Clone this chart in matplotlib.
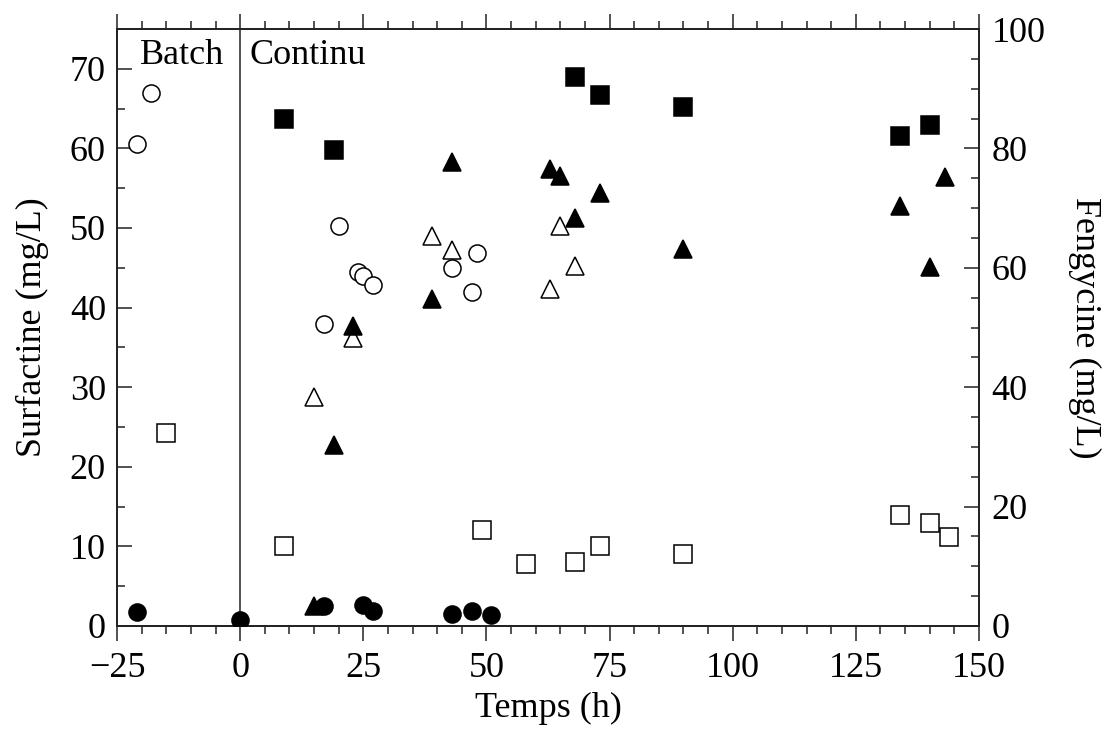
import matplotlib
matplotlib.use("Agg")
import matplotlib.pyplot as plt
from matplotlib.ticker import MultipleLocator

# ---- data ----
t_circle_open = [-21, -18, 17, 20, 24, 25, 27, 43, 47, 48]
surf_circle_open = [60.5, 66.9, 38.0, 50.2, 44.5, 44.0, 42.8, 45.0, 42.0, 46.9]

t_circle_filled = [-21, 0, 17, 25, 27, 43, 47, 51]
surf_circle_filled = [1.7, 0.75, 2.5, 2.7, 1.85, 1.5, 1.9, 1.4]

t_square_open = [-15, 9, 49, 58, 68, 73, 90, 134, 140, 144]
surf_square_open = [24.3, 10.0, 12.0, 7.8, 8.0, 10.0, 9.0, 13.9, 13.0, 11.2]

t_square_filled = [9, 19, 68, 73, 90, 134, 140]
surf_square_filled = [63.7, 59.8, 69.0, 66.7, 65.2, 61.5, 63.0]

t_tri_filled = [15, 19, 23, 39, 43, 63, 65, 68, 73, 90, 134, 140, 143]
feng_tri_filled = [3.4, 30.3, 50.3, 54.7, 77.7, 76.6, 75.3, 68.3, 72.5, 63.2, 70.4, 60.1, 75.2]

t_tri_open = [15, 23, 39, 43, 63, 65, 68]
feng_tri_open = [38.3, 48.3, 65.3, 62.9, 56.4, 67.0, 60.3]

phase_labels = ["Batch", "Continu"]
x_ticks = [-25, 0, 25, 50, 75, 100, 125, 150]

plt.rcParams["font.family"] = ["Liberation Serif", "DejaVu Serif"]
plt.rcParams["mathtext.fontset"] = "stix"

fig = plt.figure(figsize=(11.04, 7.49), dpi=100)
ax = fig.add_axes([117/1104, 1-626/749, (979-117)/1104, (626-29)/749])
ax2 = ax.twinx()

fs = 26
ms = 12.3
mew = 1.1
spine_c = "#222222"

ax.plot(t_square_open, surf_square_open, ls="none", marker="s", ms=ms, mfc="white", mec="black", mew=mew, zorder=3)
ax.plot(t_square_filled, surf_square_filled, ls="none", marker="s", ms=ms, mfc="black", mec="black", mew=mew, zorder=3)
ax.plot(t_circle_open, surf_circle_open, ls="none", marker="o", ms=ms, mfc="white", mec="black", mew=mew, zorder=4)
ax.plot(t_circle_filled, surf_circle_filled, ls="none", marker="o", ms=ms, mfc="black", mec="black", mew=mew, zorder=5)

ax2.plot(t_tri_open, feng_tri_open, ls="none", marker="^", ms=ms, mfc="white", mec="black", mew=mew, zorder=3)
ax2.plot(t_tri_filled, feng_tri_filled, ls="none", marker="^", ms=ms, mfc="black", mec="black", mew=mew, zorder=3)
ax.set_zorder(ax2.get_zorder() + 1)
ax.patch.set_visible(False)

ax.axvline(0, color="#444444", lw=1.3, zorder=1)
ax.text(-20.3, 70.6, phase_labels[0], fontsize=fs, ha="left", va="baseline")
ax.text(2.0, 70.6, phase_labels[1], fontsize=fs, ha="left", va="baseline")

ax.set_xlim(-25, 150)
ax.set_ylim(0, 75)
ax2.set_ylim(0, 100)

ax.set_xticks(x_ticks)
ax.xaxis.set_minor_locator(MultipleLocator(5))
ax.yaxis.set_major_locator(MultipleLocator(10))
ax.yaxis.set_minor_locator(MultipleLocator(5))
ax2.yaxis.set_major_locator(MultipleLocator(20))
ax2.yaxis.set_minor_locator(MultipleLocator(5))

ax.tick_params(axis="x", which="both", direction="out", top=True, bottom=True, labelsize=fs, pad=8, width=1.1, color=spine_c)
ax.tick_params(axis="x", which="major", length=11)
ax.tick_params(axis="x", which="minor", length=5.5)
ax.tick_params(axis="y", which="both", direction="in", left=True, right=False, labelsize=fs, pad=8, width=1.1, color=spine_c)
ax.tick_params(axis="y", which="major", length=11)
ax.tick_params(axis="y", which="minor", length=5.5)
ax2.tick_params(axis="y", which="both", direction="in", right=True, left=False, labelsize=fs, pad=9, width=1.1, color=spine_c)
ax2.tick_params(axis="y", which="major", length=11)
ax2.tick_params(axis="y", which="minor", length=5.5)

for a in (ax, ax2):
    for s in a.spines.values():
        s.set_linewidth(1.3)
        s.set_color(spine_c)

ax.set_xlabel("Temps (h)", fontsize=fs, labelpad=5)
ax.set_ylabel("Surfactine (mg/L)", fontsize=fs, labelpad=15)
ax2.set_ylabel("Fengycine (mg/L)", fontsize=fs, rotation=270, labelpad=40)

fig.savefig("out.png", dpi=100)
